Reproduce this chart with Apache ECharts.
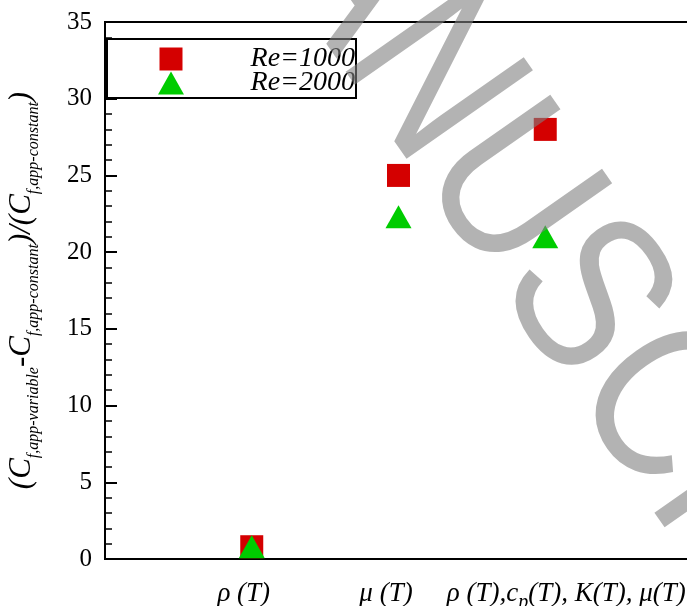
<!DOCTYPE html>
<html>
<head>
<meta charset="utf-8">
<script src="https://cdn.jsdelivr.net/npm/echarts@6/dist/echarts.min.js"></script>
<style>html,body{margin:0;padding:0;background:#fff;}#c{width:687px;height:606px;}</style>
</head>
<body>
<div id="c"></div>
<script>
// ---- data ----
var categories = ['ρ (T)', 'μ (T)', 'ρ (T),c_p(T), K(T), μ(T)'];
var re1000 = [0.8, 25.0, 28.0];
var re2000 = [0.8, 22.3, 21.0];
var seriesNames = ['Re=1000', 'Re=2000'];
var yTicks = [0, 5, 10, 15, 20, 25, 30, 35];

var axisCats = [''].concat(categories).concat(['']);
function pairs(vals) { return vals.map(function (v, i) { return [categories[i], v]; }); }

var serif = '"Liberation Serif", "Times New Roman", serif';
var chart = echarts.init(document.getElementById('c'), null, { renderer: 'canvas' });
chart.setOption({
  animation: false,
  backgroundColor: '#fff',
  grid: { left: 105, width: 587, top: 22, bottom: 47, show: true, borderColor: '#000', borderWidth: 2, backgroundColor: 'transparent', outerBoundsMode: 'none', containLabel: false },
  legend: {
    left: 107, top: 39, orient: 'vertical',
    padding: [6, 1, 1, 51], itemGap: -4, itemWidth: 26, itemHeight: 23,
    borderColor: '#000', borderWidth: 2, backgroundColor: '#fff',
    symbolKeepAspect: true,
    formatter: '{r|{name}}',
    textStyle: {
      color: '#000', fontFamily: serif, fontStyle: 'italic', fontSize: 28, lineHeight: 23,
      rich: { r: { width: 166, align: 'right', fontFamily: serif, fontStyle: 'italic', fontSize: 28, lineHeight: 23 } }
    },
    data: [
      { name: seriesNames[0], icon: 'path://M0,0H23V23H0Z' },
      { name: seriesNames[1], icon: 'path://M13,0L26,23H0Z' }
    ]
  },
  xAxis: {
    type: 'category', data: axisCats, boundaryGap: false,
    axisLine: { lineStyle: { color: '#000', width: 2 } },
    axisTick: { show: false },
    splitLine: { show: false },
    axisLabel: {
      interval: 0, margin: 15, color: '#000',
      formatter: function (v) {
        if (v === categories[0]) return '{a|ρ (T)}';
        if (v === categories[1]) return '{b|μ (T)}';
        if (v === categories[2]) return '{c|ρ (T),c}{s|p}{m|(T), K(T), μ(T)}';
        return '';
      },
      rich: {
        a: { fontFamily: serif, fontStyle: 'italic', fontSize: 27, color: '#000', padding: [0, 16, 0, 0], lineHeight: 39 },
        b: { fontFamily: serif, fontStyle: 'italic', fontSize: 27, color: '#000', padding: [0, 25, 0, 0], lineHeight: 39 },
        c: { fontFamily: serif, fontStyle: 'italic', fontSize: 27, color: '#000', padding: [0, 0, 0, 42], lineHeight: 39 },
        m: { fontFamily: serif, fontStyle: 'italic', fontSize: 27, color: '#000', lineHeight: 39 },
        s: { fontFamily: serif, fontStyle: 'italic', fontSize: 20, color: '#000', verticalAlign: 'bottom', lineHeight: 8 }
      }
    }
  },
  yAxis: {
    type: 'value', min: 0, max: 35, interval: 5,
    axisLine: { show: true, lineStyle: { color: '#000', width: 2 } },
    axisTick: { show: true, inside: true, length: 12, lineStyle: { color: '#000', width: 2 } },
    minorTick: { show: true, splitNumber: 5, length: 7, lineStyle: { color: '#000', width: 1.5 } },
    splitLine: { show: false },
    axisLabel: {
      margin: 13, color: '#000', fontFamily: serif, fontSize: 25,
      formatter: function (v) { return yTicks.indexOf(v) >= 0 ? String(v) : ''; }
    },
    name: '{m|(C}{s|f,app-variable}{m|-C}{s|f,app-constant}{m|)/(C}{s|f,app-constant}{m|)}',
    nameLocation: 'middle', nameRotate: 90, nameGap: 63,
    nameTextStyle: {
      rich: {
        m: { fontFamily: serif, fontStyle: 'italic', fontSize: 31, color: '#000', lineHeight: 40 },
        s: { fontFamily: serif, fontStyle: 'italic', fontSize: 16, color: '#000', verticalAlign: 'bottom', lineHeight: 11 }
      }
    }
  },
  graphic: [{
    type: 'text', x: 224, y: -210, rotation: -55 * Math.PI / 180, scaleX: 1, scaleY: 1.18, z: 100, silent: true,
    style: { text: 'MANUSCRIPT', font: '190px "Liberation Sans", Arial, sans-serif', fill: 'rgba(128,128,128,0.6)', align: 'left', verticalAlign: 'middle' }
  }],
  series: [
    { name: seriesNames[0], type: 'scatter', symbol: 'rect', symbolSize: [23, 23], itemStyle: { color: '#d40000', opacity: 1 }, data: pairs(re1000), z: 3 },
    { name: seriesNames[1], type: 'scatter', symbol: 'triangle', symbolSize: [26, 23], itemStyle: { color: '#00cc00', opacity: 1 }, data: pairs(re2000), z: 4 }
  ]
});
</script>
</body>
</html>
